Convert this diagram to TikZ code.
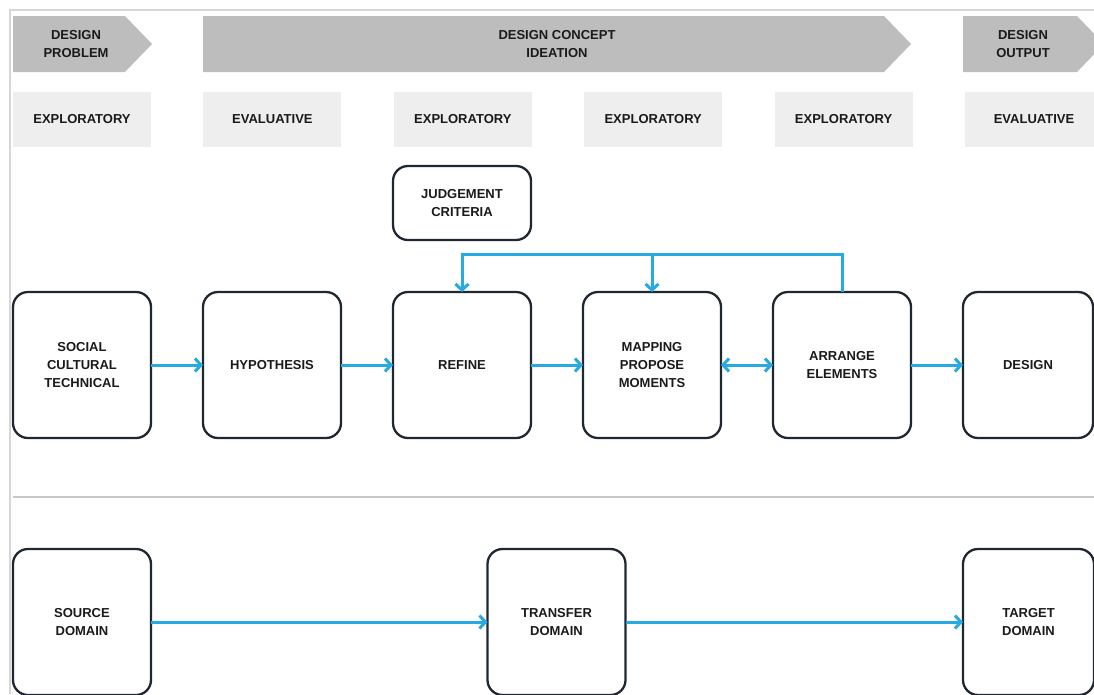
\documentclass[tikz,border=0pt]{standalone}
\usepackage{fontspec}
\setmainfont{Liberation Sans}
\usetikzlibrary{arrows.meta,positioning}

\definecolor{chevgrey}{HTML}{BDBDBD}
\definecolor{modegrey}{HTML}{EEEEEE}
\definecolor{framegrey}{HTML}{D6D6D6}
\definecolor{sepgrey}{HTML}{C8C8C8}
\definecolor{boxline}{HTML}{1F2733}
\definecolor{flowblue}{HTML}{27A9E1}
\definecolor{inkdark}{HTML}{1A1A1A}

\begin{document}
\begin{tikzpicture}[x=1pt, y=-1pt, node distance=52pt,
    >={Straight Barb[length=6pt,width=13pt]},
    every node/.append style={align=center, text=inkdark,
      font=\fontsize{13}{18.3}\selectfont\bfseries},
    phase/.style={fill=chevgrey},
    mode/.style={fill=modegrey, minimum width=138pt, minimum height=55pt, inner sep=0pt},
    stage/.style={draw=boxline, line width=2.3pt, rounded corners=15pt, outer sep=0pt,
      minimum width=138pt, minimum height=146pt, inner sep=0pt},
    flow/.style={->, draw=flowblue, line width=3pt}]
   \useasboundingbox (0,0) rectangle (1094,694);

   % frame and divider
   \draw[framegrey, line width=2pt] (10,694) -- (10,10) -- (1094,10);
   \draw[sepgrey, line width=2pt] (13,497) -- (1094,497);

   % phases
   \fill[phase] (13,16) -- (125,16) -- (152,44) -- (125,72) -- (13,72) -- cycle;
   \fill[phase] (203,16) -- (884,16) -- (911,44) -- (884,72) -- (203,72) -- cycle;
   \fill[phase] (963,16) -- (1077,16) -- (1104,44) -- (1077,72) -- (963,72) -- cycle;
   \node (problem) at (76,44) {DESIGN\\PROBLEM};
   \node (ideation) at (557,44) {DESIGN CONCEPT\\IDEATION};
   \node (output) at (1023,44) {DESIGN\\OUTPUT};

   % modes
   \node [mode] (m1) at (82,119.5) {EXPLORATORY};
   \node [mode, right=of m1] (m2) {EVALUATIVE};
   \node [mode, right=of m2] (m3) {EXPLORATORY};
   \node [mode, right=of m3] (m4) {EXPLORATORY};
   \node [mode, right=of m4] (m5) {EXPLORATORY};
   \node [mode, right=of m5] (m6) {EVALUATIVE};

   % process
   \node [stage] (social) at (82,365) {SOCIAL\\CULTURAL\\TECHNICAL};
   \node [stage, right=of social] (hypothesis) {HYPOTHESIS};
   \node [stage, right=of hypothesis] (refine) {REFINE};
   \node [stage, right=of refine] (mapping) {MAPPING\\PROPOSE\\MOMENTS};
   \node [stage, right=of mapping] (arrange) {ARRANGE\\ELEMENTS};
   \node [stage, right=of arrange, minimum width=130pt] (design) {DESIGN};
   \node [stage, above=of refine, minimum height=74pt] (criteria) {JUDGEMENT\\CRITERIA};

   \coordinate (fb) at ([yshift=38pt]arrange.north);
   \path[flow] (social) edge (hypothesis)
   (hypothesis) edge (refine)
   (refine) edge (mapping)
   (mapping) edge[<->] (arrange)
   (arrange) edge (design);
   \draw[flow] (arrange.north) -- (fb) -| (refine.north);
   \draw[flow] (mapping.north |- fb) -- (mapping.north);

   % domains
   \node [stage] (source) at (82,622) {SOURCE\\DOMAIN};
   \node [stage] (transfer) at (556.5,622) {TRANSFER\\DOMAIN};
   \node [stage, minimum width=131pt] (target) at (1028.5,622) {TARGET\\DOMAIN};

   \path[flow] (source) edge (transfer)
   (transfer) edge (target);
\end{tikzpicture}
\end{document}
